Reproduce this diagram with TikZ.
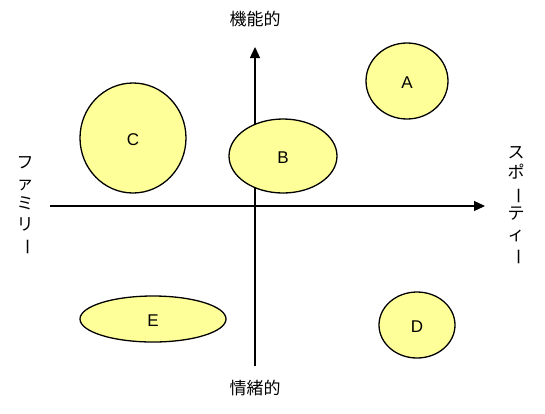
\documentclass[tikz,border=0pt]{standalone}
\usepackage{fontspec}
\setmainfont{Liberation Sans}
\newfontfamily\jp{Noto Sans CJK JP}
\usepackage{graphicx}
\usetikzlibrary{arrows.meta}
\newcommand{\vbar}{\rotatebox[origin=c]{-90}{ー}}
\begin{document}
\begin{tikzpicture}[x=1pt,y=-1pt,
  blob/.style={draw=black,line width=1.3pt,fill=yellow!40!white,ellipse},
  axis/.style={line width=1.3pt,-{Triangle[length=11pt,width=10pt]}},
  lbl/.style={font=\fontsize{17}{20}\selectfont},
  jlbl/.style={font=\jp\fontsize{17}{20}\selectfont,inner sep=0pt},
  vlbl/.style={font=\jp\fontsize{17}{20.5}\selectfont,align=center,inner sep=0pt}]
\useasboundingbox (0,0) rectangle (545,413);
\fill[white] (0,0) rectangle (545,413);
\coordinate (vb) at (255,366);
\coordinate (vt) at (255,47);
\coordinate (hl) at (50,206);
\coordinate (hr) at (485,206);
\draw[axis] (vb) -- (vt);
\draw[axis] (hl) -- (hr);
\node[jlbl] (top) at (255,19) {機能的};
\node[jlbl] (bot) at (255,388) {情緒的};
\node[vlbl] (left) at (25,206) {フ\\ァ\\ミ\\リ\\\vbar};
\node[vlbl] (right) at (516,206) {ス\\ポ\\\vbar\\テ\\ィ\\\vbar};
\draw[line width=1.3pt,fill={rgb,255:red,255;green,255;blue,153}] (407,81) ellipse [x radius=41,y radius=38];
\node[lbl] (A) at (407,83) {A};
\draw[line width=1.3pt,fill={rgb,255:red,255;green,255;blue,153}] (283,156) ellipse [x radius=54,y radius=37];
\node[lbl] (B) at (283,158) {B};
\draw[line width=1.3pt,fill={rgb,255:red,255;green,255;blue,153}] (133,138) ellipse [x radius=53,y radius=55];
\node[lbl] (C) at (133,140) {C};
\draw[line width=1.3pt,fill={rgb,255:red,255;green,255;blue,153}] (417,325) ellipse [x radius=38,y radius=33];
\node[lbl] (D) at (417,327) {D};
\draw[line width=1.3pt,fill={rgb,255:red,255;green,255;blue,153}] (153,319) ellipse [x radius=73,y radius=23];
\node[lbl] (E) at (153,321) {E};
\end{tikzpicture}
\end{document}
